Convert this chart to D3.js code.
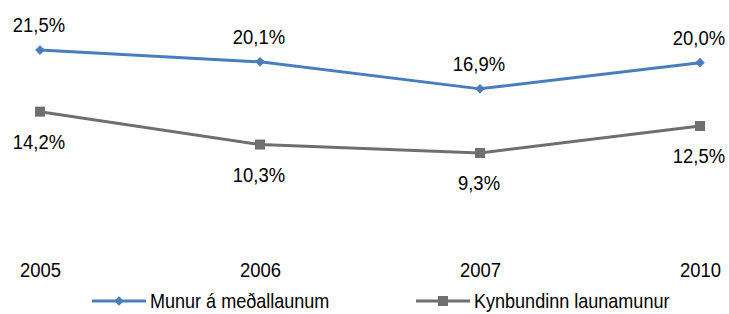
<!DOCTYPE html>
<html>
<head>
<meta charset="utf-8">
<script src="https://cdn.jsdelivr.net/npm/d3@7"></script>
<style>
  body { margin: 0; background: #fff; }
  text { font-family: "Liberation Sans", Arial, sans-serif; fill: #000; }
</style>
</head>
<body>
<div id="chart"></div>
<script>
"use strict";

// == DATA ==
var years = ["2005", "2006", "2007", "2010"];
var medallaun = [21.5, 20.1, 16.9, 20.0];
var kynbundinn = [14.2, 10.3, 9.3, 12.5];
var seriesNames = ["Munur á meðallaunum", "Kynbundinn launamunur"];

// == BOILERPLATE ==
var W = 729, H = 314;
var fontSize = 20.5;
var squeeze = 0.9; // narrow-font look
var svg = d3.select("#chart")
  .append("svg")
  .attr("width", W)
  .attr("height", H);

var x = d3.scalePoint()
  .domain(years)
  .range([40, 700]);

var y = d3.scaleLinear()
  .domain([0, 25])
  .range([231.5, 20.5]);

var fmt = function (v) { return d3.format(".1f")(v).replace(".", ",") + "%"; };

var blue = "#4a7ebb", grey = "#6f6f6f";

var line = d3.line()
  .x(function (d, i) { return x(years[i]); })
  .y(function (d) { return y(d); });

// == LINES ==
svg.append("path")
  .datum(kynbundinn)
  .attr("d", line)
  .attr("fill", "none")
  .attr("stroke", grey)
  .attr("stroke-width", 3);

svg.append("path")
  .datum(medallaun)
  .attr("d", line)
  .attr("fill", "none")
  .attr("stroke", blue)
  .attr("stroke-width", 3);

// markers
svg.selectAll(".sq")
  .data(kynbundinn)
  .enter()
  .append("rect")
  .attr("x", function (d, i) { return x(years[i]) - 5; })
  .attr("y", function (d) { return y(d) - 5; })
  .attr("width", 10)
  .attr("height", 10)
  .attr("fill", grey);

var diamond = d3.symbol().type(d3.symbolDiamond2).size(60);
svg.selectAll(".dia")
  .data(medallaun)
  .enter()
  .append("path")
  .attr("d", diamond)
  .attr("transform", function (d, i) { return "translate(" + x(years[i]) + "," + y(d) + ")"; })
  .attr("fill", blue);

// == LABELS ==
svg.selectAll(".lb")
  .data(medallaun)
  .enter()
  .append("text")
  .attr("transform", function (d, i) {
    return "translate(" + (x(years[i]) - 1) + "," + (y(d) - 18) + ") scale(" + squeeze + ",1)";
  })
  .attr("text-anchor", "middle")
  .attr("font-size", fontSize)
  .text(fmt);

svg.selectAll(".lg")
  .data(kynbundinn)
  .enter()
  .append("text")
  .attr("transform", function (d, i) {
    return "translate(" + (x(years[i]) - 1) + "," + (y(d) + 37) + ") scale(" + squeeze + ",1)";
  })
  .attr("text-anchor", "middle")
  .attr("font-size", fontSize)
  .text(fmt);

// == X AXIS (labels only) ==
var xAxis = svg.append("g")
  .attr("transform", "translate(0,277)")
  .call(d3.axisBottom(x).tickSize(0).tickPadding(0));
xAxis.select(".domain").remove();
xAxis.selectAll("text")
  .attr("font-size", fontSize)
  .attr("dy", 0)
  .attr("transform", "scale(" + squeeze + ",1)")
  .style("font-family", "'Liberation Sans', Arial, sans-serif")
  .attr("fill", "#000");

// == LEGEND ==
var legend = [
  { name: seriesNames[0], color: blue, x0: 92, marker: "diamond" },
  { name: seriesNames[1], color: grey, x0: 416, marker: "square" }
];
var lg = svg.selectAll(".legend")
  .data(legend)
  .enter()
  .append("g")
  .attr("transform", function (d) { return "translate(" + d.x0 + ",301)"; });

lg.append("line")
  .attr("x1", 0).attr("x2", 54)
  .attr("y1", 0).attr("y2", 0)
  .attr("stroke", function (d) { return d.color; })
  .attr("stroke-width", 3);

lg.each(function (d) {
  var g = d3.select(this);
  if (d.marker === "diamond") {
    g.append("path").attr("d", diamond).attr("transform", "translate(27,0)").attr("fill", d.color);
  } else {
    g.append("rect").attr("x", 22).attr("y", -5).attr("width", 10).attr("height", 10).attr("fill", d.color);
  }
});

lg.append("text")
  .attr("transform", "translate(58,7) scale(0.88,1)")
  .attr("font-size", fontSize)
  .text(function (d) { return d.name; });
</script>
</body>
</html>
